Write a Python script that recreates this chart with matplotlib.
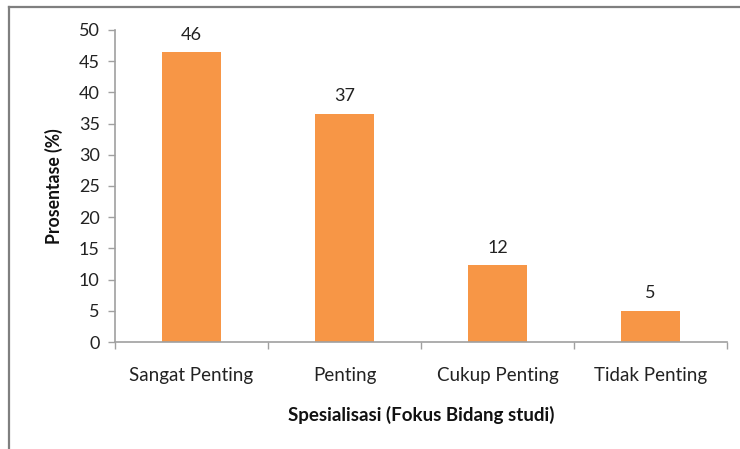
import matplotlib.pyplot as plt
from matplotlib.lines import Line2D

kategori = ['Sangat Penting', 'Penting', 'Cukup Penting', 'Tidak Penting']
persen = [46.4, 36.6, 12.3, 5.0]
yticks = [0, 5, 10, 15, 20, 25, 30, 35, 40, 45, 50]

plt.rcParams['font.family'] = ['Lato', 'DejaVu Sans']

fig = plt.figure(figsize=(7.4, 4.49), dpi=100)
ax = fig.add_axes([0.1554, 0.2383, 0.8270, 0.6949])

x = range(len(kategori))
bars = ax.bar(x, persen, width=0.39, color='#F79646')

for b, v in zip(bars, persen):
    ax.annotate('%d' % round(v), (b.get_x() + b.get_width() / 2, v),
                xytext=(0, 7), textcoords='offset points',
                ha='center', va='bottom', fontsize=13, color='#222222')

ax.set_xlim(-0.5, len(kategori) - 0.5)
ax.set_ylim(0, 50)
ax.set_yticks(yticks)
ax.set_xticks(x)
ax.set_xticklabels(kategori, fontsize=13.5, color='#222222')
ax.set_xticks([i - 0.5 for i in range(len(kategori) + 1)], minor=True)
ax.tick_params(axis='x', which='major', length=0, pad=18)
ax.tick_params(axis='x', which='minor', length=5, color='#A0A0A0', width=1)
ax.tick_params(axis='y', labelsize=13, labelcolor='#222222', length=5,
               color='#A0A0A0', width=1, pad=6)

for s in ['top', 'right']:
    ax.spines[s].set_visible(False)
for s in ['left', 'bottom']:
    ax.spines[s].set_color('#A0A0A0')
    ax.spines[s].set_linewidth(1.2)

ax.set_xlabel('Spesialisasi (Fokus Bidang studi)', fontsize=13.5,
              fontweight='bold', labelpad=16, color='#111111')
ax.set_ylabel('Prosentase (%)', fontsize=12.7, fontweight='bold',
              labelpad=11, color='#111111')

# bingkai gambar (atas & kiri)
fig.add_artist(Line2D([9 / 740, 1], [1 - 7 / 449, 1 - 7 / 449],
                      transform=fig.transFigure, color='#7F7F7F', lw=1.6))
fig.add_artist(Line2D([9 / 740, 9 / 740], [0, 1 - 7 / 449],
                      transform=fig.transFigure, color='#7F7F7F', lw=1.6))

fig.savefig('out.png', dpi=100)
